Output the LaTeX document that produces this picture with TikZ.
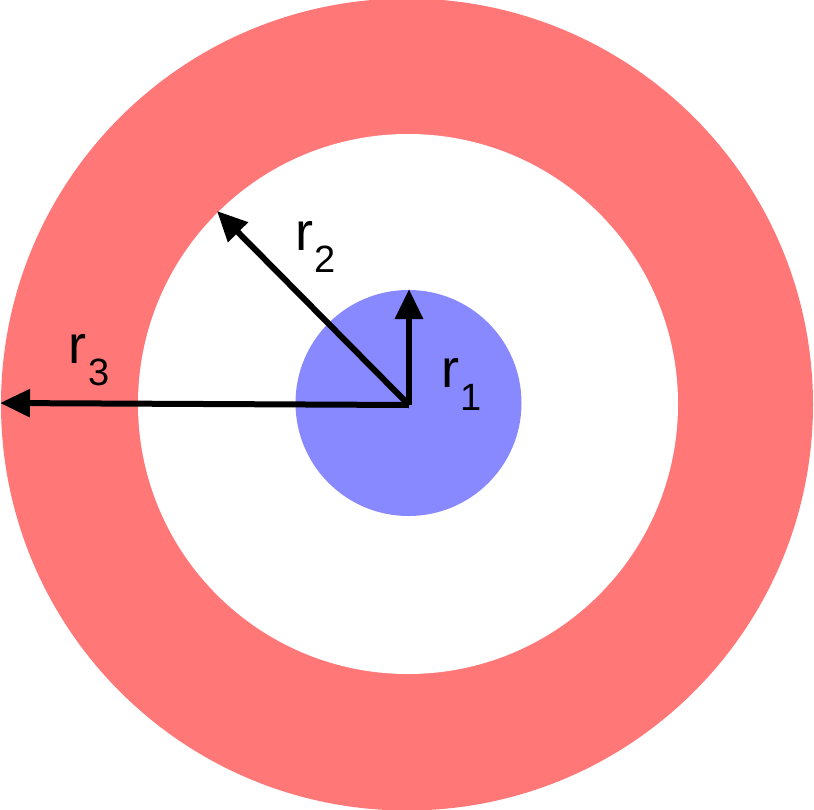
\documentclass[tikz,border=0pt]{standalone}
\usepackage{fontspec}
\setmainfont{Liberation Sans}
\usetikzlibrary{arrows.meta}
\definecolor{ringred}{RGB}{255,119,119}
\definecolor{coreblue}{RGB}{136,136,255}
\tikzset{
  radius arrow/.style={line width=6pt, line join=miter, -{Triangle[length=30pt,width=27pt]}},
  rlabel/.style={inner sep=0pt, anchor=base west, font=\fontsize{54}{60}\selectfont},
  sublabel/.style={inner sep=0pt, anchor=base west, font=\fontsize{38}{44}\selectfont}
}
\begin{document}
\begin{tikzpicture}[x=1pt,y=-1pt]
\useasboundingbox (0,0) rectangle (814,809);
\coordinate (O) at (409,405);
\fill[ringred] (407,404.5) circle[radius=406];
\fill[white] (408,404) circle[radius=270];
\fill[coreblue] (408.5,403) circle[radius=113];
\coordinate (t1) at (409,289);
\coordinate (t2) at (217,211);
\coordinate (t3) at (0,403);
\draw[radius arrow] (O) -- (t1);
\draw[radius arrow] (O) -- (t2);
\draw[radius arrow] (O) -- (t3);
\node[rlabel] (r2) at (295,250) {r};
\node[sublabel] (s2) at (314,272) {2};
\node[rlabel] (r1) at (441,387) {r};
\node[sublabel] (s1) at (460,410) {1};
\node[rlabel] (r3) at (68,363) {r};
\node[sublabel] (s3) at (88,385) {3};
\end{tikzpicture}
\end{document}
